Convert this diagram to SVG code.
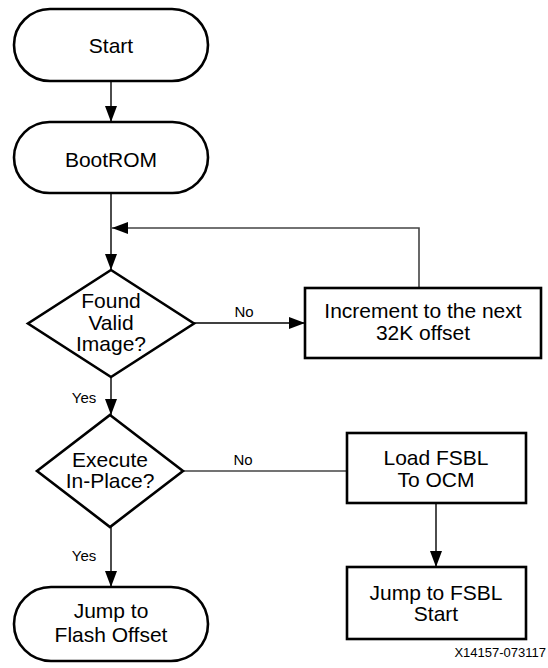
<svg xmlns="http://www.w3.org/2000/svg" width="548" height="668" viewBox="0 0 548 668">
<defs>
<style>
.n{fill:#fff;stroke:#000;stroke-width:2.6}
.t{font-family:"Liberation Sans",Arial,sans-serif;font-size:21px;fill:#000;text-anchor:middle}
.s{font-family:"Liberation Sans",Arial,sans-serif;font-size:15px;fill:#000;text-anchor:middle}
.c{fill:none;stroke:#000;stroke-width:1.4}
.g{fill:none;stroke:#444;stroke-width:1.6}
</style>
<marker id="ah" markerUnits="userSpaceOnUse" markerWidth="16" markerHeight="12" refX="16" refY="6" orient="auto">
<path d="M0,0 L16,6 L0,12 Z" fill="#000"/>
</marker>
</defs>
<rect width="548" height="668" fill="#fff"/>
<g id="connectors">
<line class="c" x1="111" y1="81" x2="111" y2="122" marker-end="url(#ah)"/>
<line class="c" x1="111" y1="193" x2="111" y2="270" marker-end="url(#ah)"/>
<path class="g" d="M419,288 V228 H112" marker-end="url(#ah)"/>
<line class="c" x1="194" y1="323" x2="305" y2="323" marker-end="url(#ah)"/>
<line class="c" x1="111" y1="377" x2="111" y2="415" marker-end="url(#ah)"/>
<line class="g" x1="183" y1="471" x2="347" y2="471"/>
<line class="c" x1="436" y1="503" x2="436" y2="567" marker-end="url(#ah)"/>
<line class="c" x1="111" y1="527" x2="111" y2="587" marker-end="url(#ah)"/>
<text class="s" x="244" y="317">No</text>
<text class="s" x="84" y="403">Yes</text>
<text class="s" x="243" y="465">No</text>
<text class="s" x="84" y="561">Yes</text>
</g>
<g id="start">
<rect class="n" x="14" y="9" width="194" height="72" rx="36" ry="36"/>
<text class="t" x="111" y="53">Start</text>
</g>
<g id="bootrom">
<rect class="n" x="14" y="122" width="194" height="71" rx="35.5" ry="35.5"/>
<text class="t" x="111" y="167">BootROM</text>
</g>
<g id="found-valid">
<polygon class="n" points="111,270 194,323.5 111,377 28,323.5"/>
<text class="t" x="111" y="308">Found</text>
<text class="t" x="111" y="330">Valid</text>
<text class="t" x="111" y="351">Image?</text>
</g>
<g id="increment">
<rect class="n" x="305" y="288" width="236" height="70"/>
<text class="t" x="423" y="318">Increment to the next</text>
<text class="t" x="423" y="340">32K offset</text>
</g>
<g id="execute">
<polygon class="n" points="110,415 183,471 110,527 37,471"/>
<text class="t" x="110" y="467">Execute</text>
<text class="t" x="110" y="488">In-Place?</text>
</g>
<g id="load-fsbl">
<rect class="n" x="347" y="433" width="179" height="70"/>
<text class="t" x="436" y="465">Load FSBL</text>
<text class="t" x="436" y="487">To OCM</text>
</g>
<g id="jump-fsbl">
<rect class="n" x="347" y="567" width="179" height="72"/>
<text class="t" x="436" y="600">Jump to FSBL</text>
<text class="t" x="436" y="621">Start</text>
</g>
<g id="jump-flash">
<rect class="n" x="14" y="587" width="194" height="74" rx="37" ry="37"/>
<text class="t" x="111" y="618">Jump to</text>
<text class="t" x="111" y="642">Flash Offset</text>
</g>
<text x="546" y="657" font-family="Liberation Sans, Arial, sans-serif" font-size="13" text-anchor="end" fill="#000">X14157-073117</text>
</svg>
